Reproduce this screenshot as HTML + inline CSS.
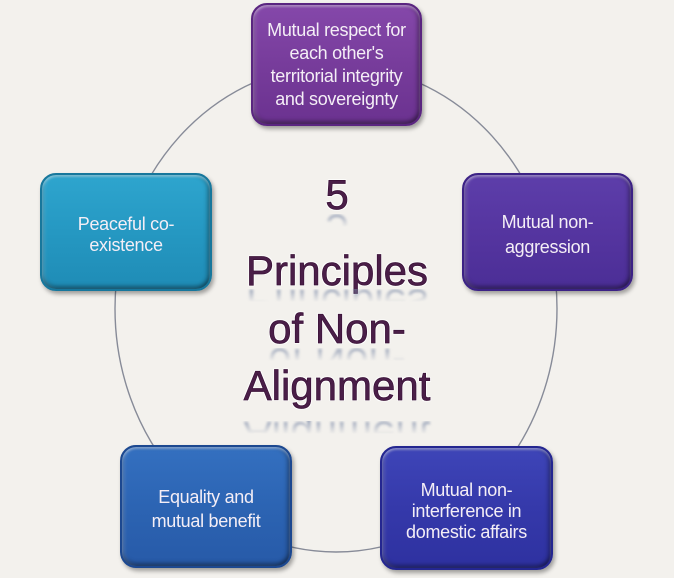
<!DOCTYPE html>
<html>
<head>
<meta charset="utf-8">
<style>
  html, body { margin:0; padding:0; }
  body { width:674px; height:578px; background:#f3f1ed; position:relative; overflow:hidden;
         font-family:"Liberation Sans", sans-serif; }
  svg.ring { position:absolute; left:0; top:0; }
  .box { position:absolute; box-sizing:border-box; border-radius:16px;
         display:flex; align-items:center; justify-content:center; text-align:center;
         color:#f4eef6; font-size:18px; line-height:23px; letter-spacing:-0.3px;
         box-shadow: 2px 3px 4px rgba(0,0,0,0.35), inset 0 2px 2px rgba(255,255,255,0.35), inset 0 -3px 4px rgba(0,0,0,0.35), inset 3px 0 3px rgba(255,255,255,0.15), inset -3px 0 4px rgba(0,0,0,0.25); }
  .b1 { left:251px; top:3px; width:171px; height:123px;
        background:linear-gradient(to bottom,#8548aa,#773c9b 50%,#6b3290);
        border:2px solid #5a2580; }
  .b2 { left:462px; top:173px; width:171px; height:118px; padding-top:5px; line-height:25px;
        background:linear-gradient(to bottom,#5d3eaa,#5535a0 50%,#4b2e96);
        border:2px solid #3c2285; }
  .b3 { left:380px; top:446px; width:173px; height:124px; padding-top:6px; line-height:21px;
        background:linear-gradient(to bottom,#3e45b8,#3539aa 50%,#2e31a0);
        border:2px solid #242690; }
  .b4 { left:120px; top:445px; width:172px; height:123px; padding-top:5px; line-height:24px;
        background:linear-gradient(to bottom,#3470c0,#2c64b3 50%,#275aa8);
        border:2px solid #1c4890; }
  .b5 { left:40px; top:173px; width:172px; height:118px; padding-top:6px; line-height:21px;
        background:linear-gradient(to bottom,#2ea5ce,#2598c2 50%,#1f8cb6);
        border:2px solid #17779c; }
  .title { position:absolute; left:200px; width:274px; text-align:center;
           font-size:42px; line-height:42px; color:#4a1e48;
           -webkit-text-stroke:0.7px #3a1236;
           text-shadow: 0 0 1px #fff, 1px 1px 0 #fff, -1px -1px 0 #fff, 1px -1px 0 #fff, -1px 1px 0 #fff; }
  .refl { position:absolute; left:200px; width:274px; height:13px; overflow:hidden;
          -webkit-mask-image:linear-gradient(to bottom, rgba(0,0,0,0.7), rgba(0,0,0,0));
          mask-image:linear-gradient(to bottom, rgba(0,0,0,0.7), rgba(0,0,0,0)); }
  .refl div { position:absolute; left:0; top:-6.5px; width:274px; text-align:center;
              font-size:42px; line-height:42px; color:#7a88a6; transform:scaleY(-1);
              filter:blur(1.4px); }
</style>
</head>
<body>
<svg class="ring" width="674" height="578" viewBox="0 0 674 578">
  <ellipse cx="336" cy="308.5" rx="221" ry="243.5" fill="none" stroke="#878b98" stroke-width="1.4"/>
</svg>

<div class="title" style="top:173.5px;">5</div>
<div class="refl" style="top:214px;"><div>5</div></div>
<div class="title" style="top:249.5px;">Principles</div>
<div class="refl" style="top:289px;"><div>Principles</div></div>
<div class="title" style="top:307.5px;">of Non-</div>
<div class="refl" style="top:348px;"><div>of Non-</div></div>
<div class="title" style="top:364.5px;">Alignment</div>
<div class="refl" style="top:421px;"><div>Alignment</div></div>

<div class="box b1"><div>Mutual respect for<br>each other's<br>territorial integrity<br>and sovereignty</div></div>
<div class="box b2"><div>Mutual non-<br>aggression</div></div>
<div class="box b3"><div>Mutual non-<br>interference in<br>domestic affairs</div></div>
<div class="box b4"><div>Equality and<br>mutual benefit</div></div>
<div class="box b5"><div>Peaceful co-<br>existence</div></div>
</body>
</html>
